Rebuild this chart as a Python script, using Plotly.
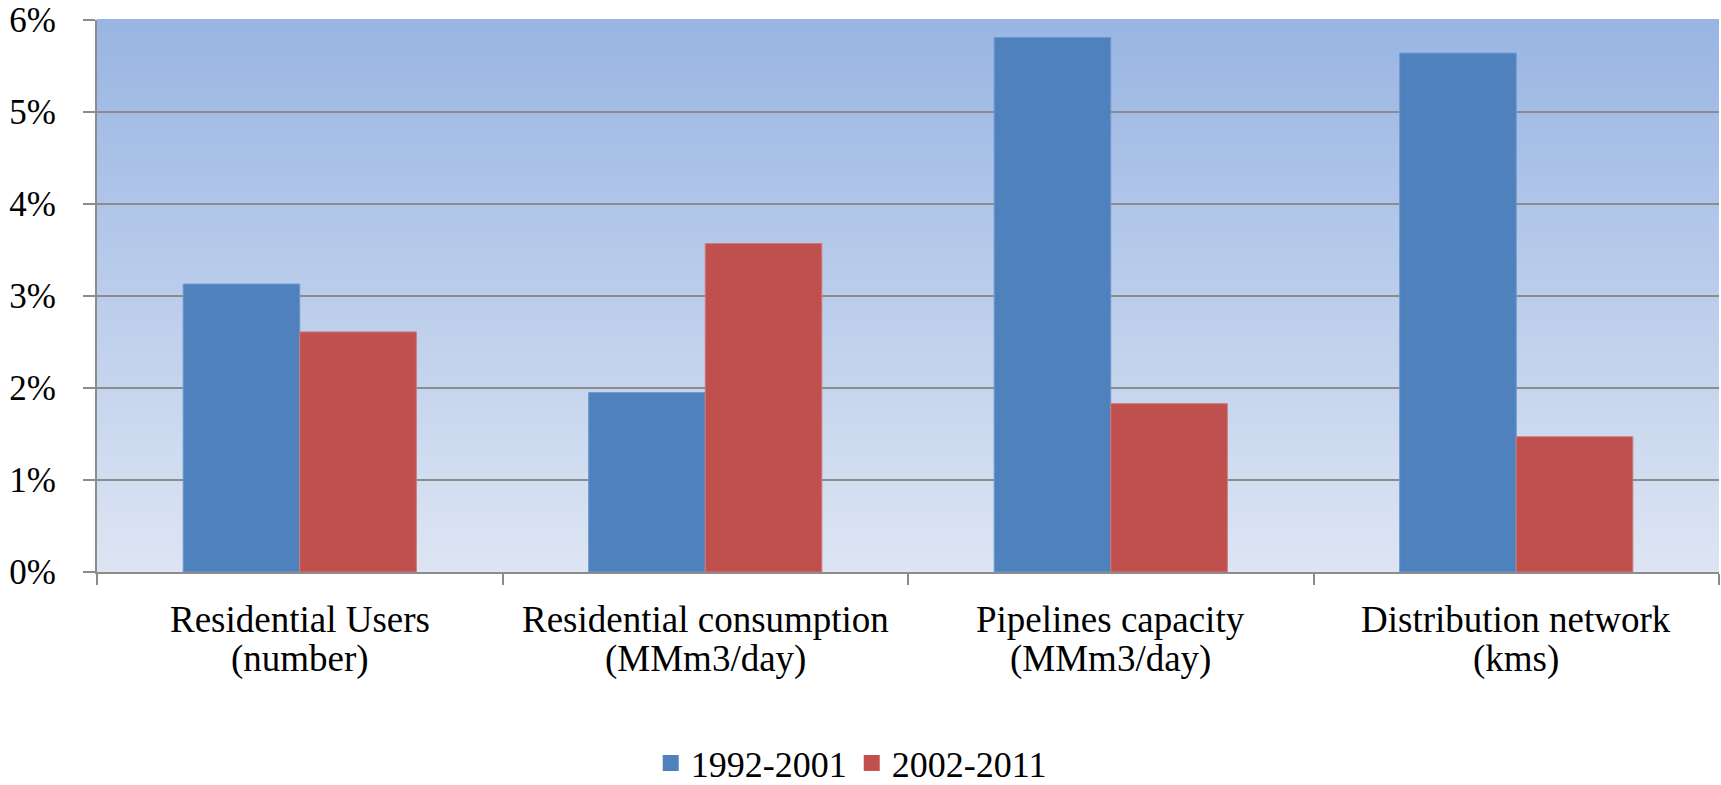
import plotly.graph_objects as go

# Average annual growth rates by indicator and period
categories = [
    "Residential Users",
    "Residential consumption",
    "Pipelines capacity",
    "Distribution network",
]
units = ["(number)", "(MMm3/day)", "(MMm3/day)", "(kms)"]
growth_1992_2001 = [0.0313, 0.0195, 0.0581, 0.0564]
growth_2002_2011 = [0.0261, 0.0357, 0.0183, 0.0147]
series_names = ["1992-2001", "2002-2011"]
y_ticks = [0, 0.01, 0.02, 0.03, 0.04, 0.05, 0.06]

BLUE = "#4F81BD"
RED = "#C0504D"
GRID = "#8C8C8C"
FONT = "Liberation Serif"

fig = go.Figure()
fig.add_trace(go.Bar(
    x=categories, y=growth_1992_2001, name=series_names[0],
    marker=dict(color=BLUE, line=dict(color="#6E99CF", width=1)),
    showlegend=False,
))
fig.add_trace(go.Bar(
    x=categories, y=growth_2002_2011, name=series_names[1],
    marker=dict(color=RED, line=dict(color="#CD7A78", width=1)),
    showlegend=False,
))

# Legend entries with larger square swatches
for name, color in zip(series_names, [BLUE, RED]):
    fig.add_trace(go.Scatter(
        x=[None], y=[None], mode="markers", name=name,
        marker=dict(symbol="square", size=20, color=color),
    ))

# Vertical gradient fill for the plotting area
top = (153, 181, 227)
bottom = (221, 229, 243)
n = 184
shapes = []
for i in range(n):
    t = i / (n - 1)
    c = tuple(round(bottom[k] + (top[k] - bottom[k]) * t) for k in range(3))
    shapes.append(dict(
        type="rect", xref="x domain", yref="y domain",
        x0=0, x1=1, y0=i / n, y1=(i + 1) / n + 0.002,
        fillcolor="rgb(%d,%d,%d)" % c, line=dict(width=0), layer="below",
    ))

# Two-line category labels with tight line spacing
annotations = []
for cat, unit in zip(categories, units):
    for text, ypos in ((cat, -0.086), (unit, -0.158)):
        annotations.append(dict(
            x=cat, xref="x", y=ypos, yref="paper", text=text,
            showarrow=False, xanchor="center", yanchor="middle",
            font=dict(family=FONT, size=37, color="black"),
        ))

fig.update_layout(
    width=1721, height=785,
    margin=dict(l=97, r=2, t=20, b=213),
    paper_bgcolor="white",
    plot_bgcolor="rgba(0,0,0,0)",
    barmode="group", bargap=0.425, bargroupgap=0,
    font=dict(family=FONT, size=34, color="black"),
    shapes=shapes,
    annotations=annotations,
    showlegend=True,
    legend=dict(
        orientation="h", xref="paper", yref="container",
        x=0.465, xanchor="center", y=0.028, yanchor="middle",
        font=dict(size=36), itemwidth=30, tracegroupgap=0,
        bgcolor="rgba(0,0,0,0)",
    ),
)
fig.update_xaxes(
    showline=True, linecolor=GRID, linewidth=2,
    ticks="outside", tickson="boundaries", ticklen=11, tickcolor=GRID, tickwidth=2,
    showgrid=False, showticklabels=False,
)
fig.update_yaxes(
    range=[0, 0.06], tickvals=y_ticks, tickformat=".0%",
    showline=True, linecolor=GRID, linewidth=2,
    ticks="outside", ticklen=12, tickcolor=GRID, tickwidth=2,
    showgrid=True, gridcolor=GRID, gridwidth=2, zeroline=False,
    tickfont=dict(size=35), ticklabelstandoff=20,
)

fig.write_html("out.html")
